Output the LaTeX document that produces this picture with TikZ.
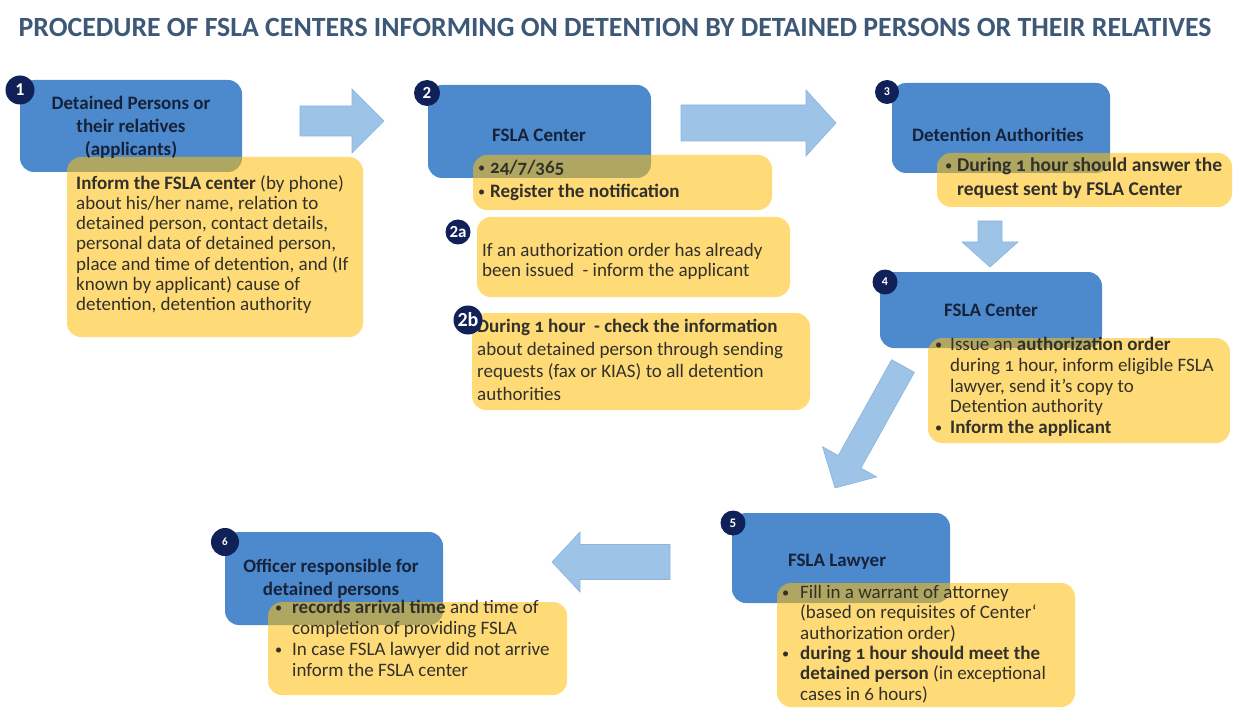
\documentclass[tikz,border=0pt]{standalone}
\usepackage{fontspec}
\setmainfont{Carlito}[Numbers=OldStyle]
\usetikzlibrary{calc}
\definecolor{boxblue}{RGB}{76,138,205}
\definecolor{boxyellow}{RGB}{255,190,10}
\definecolor{arrowblue}{RGB}{157,195,230}
\definecolor{arrowedge}{RGB}{138,180,222}
\definecolor{badgenavy}{RGB}{16,33,88}
\definecolor{titleblue}{RGB}{62,88,120}
\definecolor{headtext}{RGB}{22,34,58}
\definecolor{bodytext}{RGB}{50,48,42}
\newcommand\bul[1][15pt]{\makebox[#1][l]{\raisebox{0.05em}{\scalebox{0.75}{\textbullet}}}}
\newcommand\ind[1][15pt]{\hspace*{#1}}
\newcommand\boxnode[6]{%
  \node[#1, minimum width={(#5-#3)*1pt}, minimum height={(#6-#4)*1pt}] (#2) at ({(#3+#5)/2},{(#4+#6)/2}) {};}
\newcommand\blockarrow[5]{%
  \path let \p1=($(#2)-(#1)$) in \pgfextra{\pgfmathsetmacro\baang{atan2(\y1,\x1)}\pgfmathsetmacro\balen{veclen(\x1,\y1)}\xdef\baang{\baang}\xdef\balen{\balen}};
  \begin{scope}[shift={(#1)}, rotate=\baang]
    \filldraw[blockarrow] (0,#3) -- ({\balen-#5},#3) -- ({\balen-#5},#4) -- (\balen,0) -- ({\balen-#5},-#4) -- ({\balen-#5},-#3) -- (0,-#3) -- cycle;
  \end{scope}}
\tikzset{
  bluebox/.style={fill=boxblue, rounded corners=14pt, inner sep=0pt, outer sep=0pt},
  yellowbox/.style={fill=boxyellow, fill opacity=0.55, rounded corners=14pt, inner sep=0pt, outer sep=0pt},
  badge/.style={circle, fill=badgenavy, text=white, inner sep=0pt, minimum size=26pt, font=\fontsize{15}{15}\bfseries\addfontfeature{Numbers=Lining}\selectfont},
  headtxt/.style={align=center, text=headtext, font=\fontsize{19}{23}\bfseries\selectfont, inner sep=0pt},
  bodytxt/.style={align=left, anchor=north west, text=bodytext, font=\fontsize{19}{20.5}\selectfont, inner sep=0pt},
  blockarrow/.style={fill=arrowblue, draw=arrowedge, line width=0.6pt},
}
\begin{document}
\begin{tikzpicture}[x=1pt, y=-1pt]
\useasboundingbox[fill=white] (0,0) rectangle (1233,711);
% title
\node[font=\fontsize{27.8}{32}\bfseries\selectfont, text=titleblue, inner sep=0pt] (title) at (615,27) {PROCEDURE OF FSLA CENTERS INFORMING ON DETENTION BY DETAINED PERSONS OR THEIR RELATIVES};
% blue boxes
\boxnode{bluebox}{b1}{20}{80}{242}{172}
\boxnode{bluebox}{b2}{428}{85}{651}{178}
\boxnode{bluebox}{b3}{892}{83}{1110}{173}
\boxnode{bluebox}{b4}{880}{272}{1102}{348}
\boxnode{bluebox}{b5}{732}{513}{950}{603}
\boxnode{bluebox}{b6}{225}{532}{443}{625}
% yellow boxes
\boxnode{yellowbox}{y1}{67}{157}{363}{337}
\boxnode{yellowbox}{y2}{473}{155}{772}{210}
\boxnode{yellowbox}{y2a}{477}{217}{790}{297}
\boxnode{yellowbox}{y2b}{472}{313}{810}{410}
\boxnode{yellowbox}{y3}{937}{153}{1232}{207}
\boxnode{yellowbox}{y4}{928}{338}{1230}{443}
\boxnode{yellowbox}{y5}{777}{583}{1075}{707}
\boxnode{yellowbox}{y6}{268}{602}{567}{695}
% heading texts
\node[headtxt] (b1t) at (131,127) {Detained Persons or\\their relatives\\(applicants)};
\node[headtxt] (b2t) at (539,135) {FSLA Center};
\node[headtxt] (b3t) at (998,135) {Detention Authorities};
\node[headtxt] (b4t) at (991,310) {FSLA Center};
\node[headtxt] (b5t) at (837,562) {FSLA Lawyer};
\node[headtxt] (b6t) at (331,579) {Officer responsible for\\detained persons};
% body texts
\node[bodytxt, font=\fontsize{19}{20.3}\selectfont] (y1t) at (76,175) {\textbf{Inform the FSLA center} (by phone)\\about his/her name, relation to\\detained person, contact details,\\personal data of detained person,\\place and time of detention, and (If\\known by applicant) cause of\\detention, detention authority};
\node[bodytxt, font=\fontsize{19}{24}\selectfont] (y2t) at (478,160) {\bul[12pt]\textbf{24/7/365}\\\bul[12pt]\textbf{Register the notification}};
\node[bodytxt, font=\fontsize{19}{20}\selectfont] (y2at) at (482,243) {If an authorization order has already\\been issued\ \ - inform the applicant};
\node[bodytxt, font=\fontsize{19}{22.7}\selectfont] (y2bt) at (477,319) {\textbf{During 1 hour\ \ - check the information}\\about detained person through sending\\requests (fax or KIAS) to all detention\\authorities};
\node[bodytxt, font=\fontsize{19.5}{24}\selectfont] (y3t) at (945,158) {\bul[12pt]\textbf{During 1 hour should answer the}\\\ind[12pt]\textbf{request sent by FSLA Center}};
\node[bodytxt, font=\fontsize{19}{20.8}\selectfont] (y4t) at (935,337) {\bul Issue an \textbf{authorization order}\\\ind during 1 hour, inform eligible FSLA\\\ind lawyer, send it’s copy to\\\ind Detention authority\\\bul\textbf{Inform the applicant}};
\node[bodytxt, font=\fontsize{19}{20.4}\selectfont] (y5t) at (782,585) {\bul[18pt]Fill in a warrant of attorney\\\ind[18pt](based on requisites of Center`\\\ind[18pt]authorization order)\\\bul[18pt]\textbf{during 1 hour should meet the}\\\ind[18pt]\textbf{detained person} (in exceptional\\\ind[18pt]cases in 6 hours)};
\node[bodytxt, font=\fontsize{19}{21}\selectfont] (y6t) at (275,600) {\bul[17pt]\textbf{records arrival time} and time of\\\ind[17pt]completion of providing FSLA\\\bul[17pt]In case FSLA lawyer did not arrive\\\ind[17pt]inform the FSLA center};
% badges
\node[badge, minimum size=29pt, font=\fontsize{18}{18}\bfseries\addfontfeature{Numbers=Lining}\selectfont] (n1) at (20,90) {1};
\node[badge, font=\fontsize{17}{17}\bfseries\addfontfeature{Numbers=Lining}\selectfont] (n2) at (427,93) {2};
\node[badge, minimum size=24pt, font=\fontsize{12}{12}\bfseries\addfontfeature{Numbers=Lining}\selectfont] (n3) at (887,92) {3};
\node[badge, minimum size=25pt, font=\fontsize{12}{12}\bfseries\addfontfeature{Numbers=Lining}\selectfont] (n4) at (885,282) {4};
\node[badge, minimum size=25pt, font=\fontsize{13}{13}\bfseries\addfontfeature{Numbers=Lining}\selectfont] (n5) at (733,523) {5};
\node[badge, minimum size=28pt, font=\fontsize{11}{11}\bfseries\addfontfeature{Numbers=Lining}\selectfont] (n6) at (225,542) {6};
\node[badge, minimum size=25pt, font=\fontsize{17}{17}\bfseries\addfontfeature{Numbers=Lining}\selectfont] (n2a) at (458,232) {2a};
\node[badge, minimum size=29pt, font=\fontsize{20}{20}\bfseries\addfontfeature{Numbers=Lining}\selectfont] (n2b) at (468,320) {2b};
% block arrows
\coordinate (a12s) at (300,121); \coordinate (a12e) at (384,121);
\coordinate (a23s) at (681,123); \coordinate (a23e) at (836,123);
\coordinate (a34s) at (990,221); \coordinate (a34e) at (990,267);
\coordinate (a45s) at (903,366); \coordinate (a45e) at (835,488);
\coordinate (a56s) at (670,562); \coordinate (a56e) at (552,562);
\blockarrow{a12s}{a12e}{15}{32}{32}
\blockarrow{a23s}{a23e}{18}{33}{30}
\blockarrow{a34s}{a34e}{12}{28}{25}
\blockarrow{a45s}{a45e}{13}{31}{30}
\blockarrow{a56s}{a56e}{17.5}{30}{28}
\end{tikzpicture}
\end{document}
